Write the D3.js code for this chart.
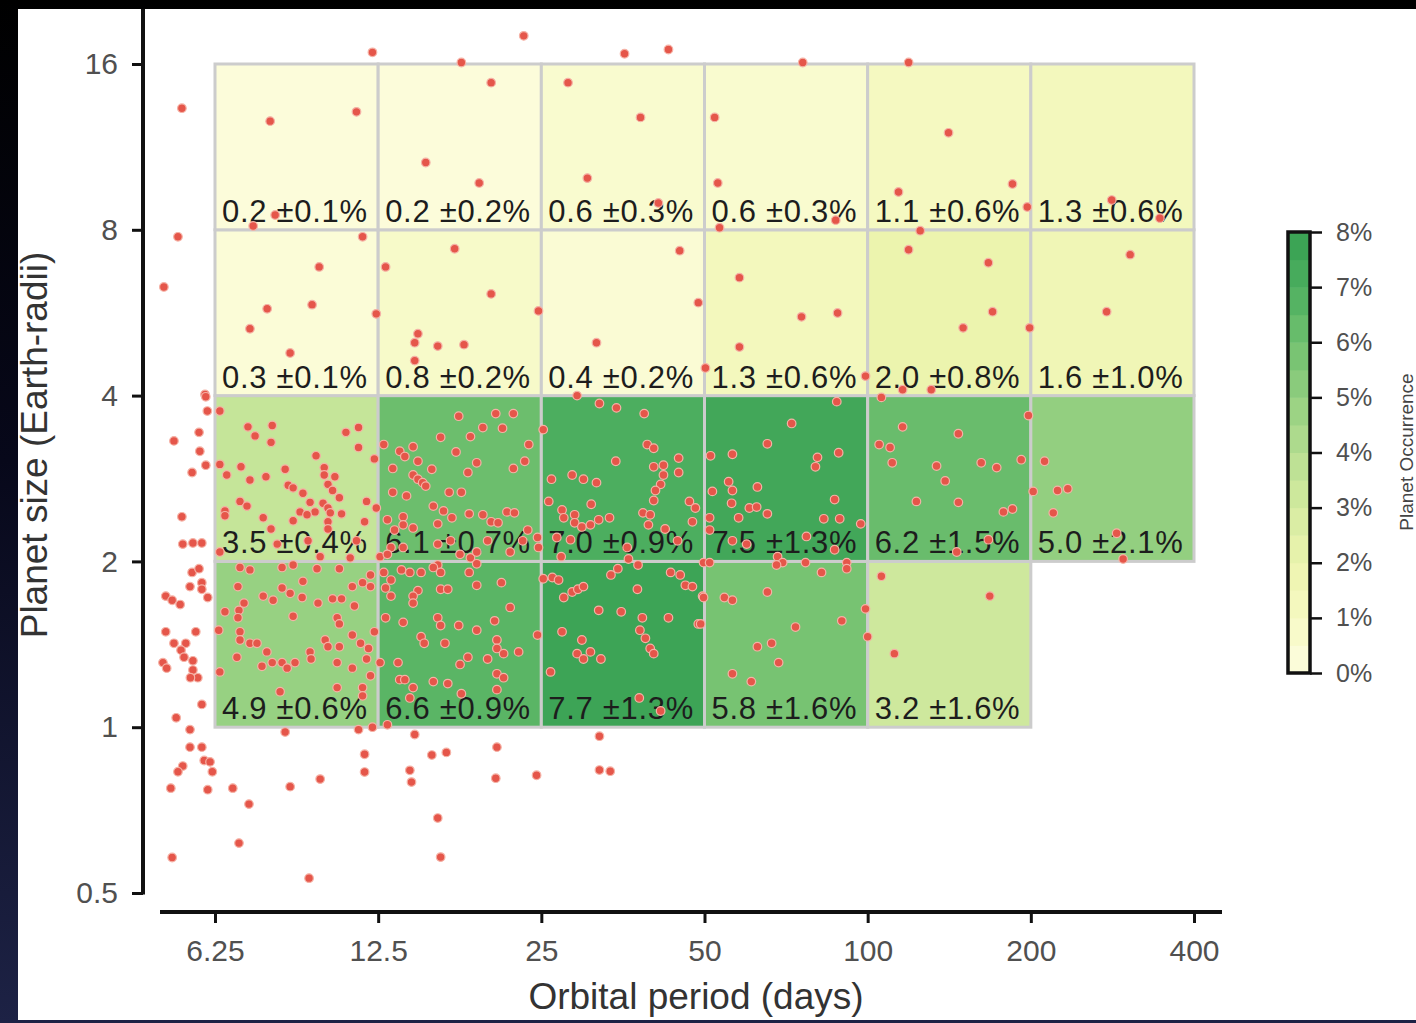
<!DOCTYPE html>
<html>
<head>
<meta charset="utf-8">
<script src="https://cdn.jsdelivr.net/npm/d3@7"></script>
<style>
  html, body { margin: 0; padding: 0; background: #000; overflow: hidden; }
  svg { display: block; }
  text { font-family: "Liberation Sans", Arial, Helvetica, sans-serif; }
</style>
</head>
<body>
<svg id="chart" width="1416" height="1023"></svg>
<script>
// Bin edges (orbital period in days, planet radius in Earth radii)
const periodEdges = [6.25, 12.5, 25, 50, 100, 200, 400];
const radiusEdges = [1, 2, 4, 8, 16];

// Axis tick values
const periodTicks = [6.25, 12.5, 25, 50, 100, 200, 400];
const radiusTicks = [0.5, 1, 2, 4, 8, 16];
const occurrenceTicks = [0, 1, 2, 3, 4, 5, 6, 7, 8];

// Planet occurrence (%) and uncertainty per size band, one value per period bin
const occ1to2 = [4.9, 6.6, 7.7, 5.8, 3.2];
const err1to2 = [0.6, 0.9, 1.3, 1.6, 1.6];
const occ2to4 = [3.5, 6.1, 7.0, 7.5, 6.2, 5.0];
const err2to4 = [0.4, 0.7, 0.9, 1.3, 1.5, 2.1];
const occ4to8 = [0.3, 0.8, 0.4, 1.3, 2.0, 1.6];
const err4to8 = [0.1, 0.2, 0.2, 0.6, 0.8, 1.0];
const occ8to16 = [0.2, 0.2, 0.6, 0.6, 1.1, 1.3];
const err8to16 = [0.1, 0.2, 0.3, 0.3, 0.6, 0.6];

// Detected planet candidates: [orbital period (days), radius (Earth radii)]
const planets = [
  [5.43,13.3],[7.90,12.6],[11.4,13.1],[12.2,16.8],[17.8,16.1],[20.2,14.8],[23.2,18.0],[28.0,14.8],[35.6,16.7],[42.9,17.0],
  [38.1,12.8],[52.2,12.8],[75.9,16.1],[119,16.1],[141,12.0],[15.3,10.6],[19.2,9.73],[30.4,9.93],[52.9,9.73],[114,9.37],
  [185,9.69],[197,8.80],[282,9.06],[346,8.40],[41.1,8.95],[87.3,8.33],[8.07,8.51],[7.35,8.13],[11.7,7.77],[5.34,7.77],
  [5.03,6.30],[9.73,6.85],[7.80,5.75],[9.44,5.85],[7.25,5.29],[8.60,4.78],[12.4,5.63],[12.9,6.85],[17.3,7.39],[20.2,6.12],
  [14.8,5.18],[14.6,4.99],[16.1,4.92],[18.0,4.95],[14.6,4.63],[24.7,5.70],[31.6,4.99],[45.0,7.33],[48.7,5.90],[58.0,6.55],
  [58.0,4.90],[75.5,5.56],[88.0,5.65],[53.3,8.07],[125,7.97],[119,7.36],[167,6.97],[170,5.68],[150,5.31],[199,5.31],
  [276,5.68],[305,7.21],[50.2,4.49],[99.1,4.34],[5.99,4.02],[116,4.10],[131,4.10],[29.1,4.00],[106,3.97],
  [6.01,3.98],[6.05,3.75],[6.38,3.75],[5.25,3.31],[5.84,3.43],[5.86,3.17],[6.01,2.99],[5.67,2.90],[6.38,3.00],[6.57,2.87],
  [7.19,3.51],[7.41,3.38],[7.97,3.53],[7.93,3.29],[6.98,2.97],[7.25,2.81],[7.76,2.85],[8.42,2.94],[9.60,3.11],[9.94,2.96],
  [9.94,2.87],[10.4,2.85],[10.9,3.43],[11.5,3.50],[11.5,3.22],[12.3,3.07],[8.53,2.75],[8.71,2.72],[9.08,2.66],[10.1,2.76],
  [10.3,2.69],[10.6,2.61],[6.95,2.57],[7.16,2.52],[6.52,2.47],[6.52,2.42],[5.43,2.41],[7.67,2.40],[8.71,2.37],[8.97,2.46],
  [9.36,2.56],[9.56,2.46],[9.89,2.55],[10.1,2.50],[10.2,2.45],[10.7,2.44],[10.1,2.36],[9.24,2.43],[11.9,2.57],[12.4,2.50],
  [11.8,2.36],[7.93,2.29],[10.1,2.29],[5.45,2.15],[5.69,2.16],[5.91,2.16],[6.38,2.08],[8.14,2.15],[11.4,2.18],[11.1,2.03],
  [12.6,2.04],[9.77,2.04],[9.28,2.18],
  [6.95,1.95],[7.25,1.93],[8.31,1.95],[8.71,1.97],[9.64,1.94],[10.6,1.94],[9.08,1.84],[5.67,1.91],[5.84,1.94],[5.62,1.80],
  [5.91,1.83],[5.91,1.78],[6.06,1.72],[5.07,1.73],[5.21,1.70],[5.39,1.67],[6.89,1.80],[7.07,1.68],[6.92,1.63],[6.89,1.58],
  [6.52,1.62],[7.67,1.73],[8.00,1.70],[8.31,1.79],[8.60,1.75],[9.05,1.72],[9.68,1.68],[10.3,1.71],[10.7,1.71],[11.3,1.66],
  [11.2,1.80],[11.7,1.83],[12.1,1.89],[12.1,1.80],[8.71,1.59],[10.5,1.58],[10.6,1.54],[5.07,1.49],[5.76,1.49],[6.35,1.50],
  [6.95,1.49],[5.25,1.42],[5.52,1.42],[5.41,1.38],[5.48,1.34],[5.01,1.31],[5.09,1.28],[5.69,1.32],[5.69,1.27],[5.81,1.23],
  [5.63,1.23],[6.95,1.44],[7.25,1.42],[7.47,1.42],[7.79,1.37],[6.86,1.34],[7.63,1.29],[7.97,1.31],[8.31,1.31],[8.49,1.28],
  [8.78,1.31],[9.36,1.37],[9.40,1.33],[9.98,1.44],[10.1,1.40],[10.6,1.40],[11.2,1.47],[11.6,1.42],[12.0,1.39],[12.3,1.49],
  [10.5,1.31],[11.2,1.28],[11.9,1.33],[12.6,1.31],[12.1,1.24],[6.38,1.26],[10.5,1.18],[11.7,1.18],[11.7,1.14],[5.91,1.10],
  [5.30,1.04],[5.62,0.99],[8.24,1.16],[12.2,1.00],[13.0,1.01],[11.5,0.99],[8.42,0.98],
  [5.62,0.92],[5.91,0.92],[5.97,0.87],[6.12,0.865],[6.18,0.83],[5.45,0.85],[5.34,0.83],[5.18,0.775],[6.06,0.77],[6.74,0.775],
  [7.22,0.725],[8.60,0.78],[9.77,0.805],[6.92,0.616],[5.21,0.58],[9.32,0.532],[14.6,0.97],[11.8,0.893],[11.8,0.829],[15.7,0.89],
  [16.7,0.90],[14.3,0.835],[14.4,0.795],[20.7,0.92],[20.6,0.808],[24.5,0.818],[32.0,0.963],[32.0,0.836],[33.5,0.832],[16.1,0.684],
  [16.3,0.581],
  [17.6,3.67],[20.6,3.71],[22.2,3.71],[19.5,3.50],[21.2,3.49],[18.5,3.37],[16.3,3.36],[23.7,3.26],[12.8,3.26],[14.5,3.23],
  [13.7,3.17],[14.0,3.10],[17.4,3.16],[14.8,3.04],[19.0,3.02],[23.3,3.04],[22.2,2.95],[13.3,2.95],[15.7,2.94],[18.3,2.90],
  [14.5,2.87],[14.8,2.82],[15.1,2.78],[15.3,2.74],[13.3,2.67],[14.1,2.63],[16.9,2.67],[17.8,2.67],[15.8,2.52],[16.5,2.47],
  [17.1,2.40],[18.4,2.44],[19.5,2.43],[20.2,2.36],[21.6,2.46],[22.3,2.45],[13.0,2.38],[13.9,2.41],[13.9,2.33],[14.5,2.30],
  [13.4,2.28],[16.1,2.34],[20.8,2.35],[23.6,2.28],[24.6,2.21],[24.7,2.12],[13.2,2.12],[13.0,2.06],[13.9,2.12],[16.1,2.15],
  [17.7,2.06],[18.5,2.03],[19.0,2.08],[19.9,2.18],[21.9,2.08],[23.1,2.18],[17.0,2.18],[25.2,3.47],[16.1,1.97],
  [32.0,3.87],[34.4,3.80],[38.7,3.71],[39.2,3.26],[40.3,3.21],[34.3,3.04],[44.8,3.08],[40.3,2.97],[42.0,2.99],[42.0,2.87],
  [44.8,2.90],[41.5,2.76],[40.6,2.69],[26.1,2.82],[28.5,2.87],[29.9,2.82],[31.6,2.78],[40.3,2.58],[30.9,2.54],[46.9,2.57],
  [48.1,2.50],[25.8,2.57],[27.3,2.48],[27.5,2.40],[28.8,2.43],[28.8,2.35],[29.7,2.31],[30.8,2.33],[31.9,2.38],[33.4,2.40],
  [38.5,2.45],[39.7,2.43],[39.4,2.33],[47.5,2.36],[42.3,2.29],[44.6,2.18],[26.7,2.21],[28.3,2.19],[36.0,2.12],[27.2,2.04],
  [36.2,2.02],[37.7,1.97],
  [12.8,1.91],[13.8,1.93],[14.3,1.91],[15.0,1.91],[15.8,1.95],[16.3,1.91],[18.4,1.91],[19.0,1.98],[13.2,1.85],[12.9,1.79],
  [13.2,1.73],[14.8,1.77],[14.5,1.73],[14.5,1.68],[16.3,1.78],[16.8,1.78],[19.0,1.81],[21.1,1.83],[21.9,1.65],[12.9,1.58],
  [13.9,1.55],[16.1,1.58],[16.3,1.53],[17.6,1.53],[19.0,1.50],[20.5,1.56],[15.0,1.46],[15.2,1.42],[16.6,1.42],[20.7,1.44],
  [20.7,1.39],[21.3,1.36],[22.7,1.37],[19.9,1.33],[18.3,1.34],[17.7,1.30],[13.6,1.31],[13.7,1.22],[14.0,1.22],[14.5,1.18],
  [15.8,1.21],[16.8,1.20],[20.7,1.25],[21.3,1.23],[20.7,1.17],[17.8,1.15],[14.3,1.13],[24.6,1.47],
  [25.2,1.86],[26.2,1.87],[26.9,1.85],[27.5,1.72],[28.5,1.76],[29.2,1.78],[29.9,1.80],[33.6,1.89],[34.6,1.94],[37.6,1.78],
  [43.3,1.91],[45.1,1.89],[46.1,1.81],[47.5,1.80],[49.6,1.73],[31.9,1.63],[35.1,1.62],[38.4,1.58],[42.9,1.58],[48.7,1.54],
  [27.3,1.49],[29.7,1.44],[38.0,1.50],[38.9,1.45],[39.7,1.39],[40.3,1.36],[29.1,1.36],[29.9,1.33],[30.8,1.37],[32.2,1.33],
  [26.0,1.26],[37.9,1.13],[41.5,1.07],
  [87.7,3.90],[72.4,3.56],[65.3,3.27],[51.3,3.11],[56.3,3.13],[80.8,3.09],[80.1,2.97],[88.4,3.15],[55.4,2.79],[56.3,2.69],
  [51.7,2.68],[62.6,2.73],[56.1,2.55],[60.5,2.50],[62.4,2.51],[86.9,2.59],[57.8,2.40],[65.3,2.44],[83.0,2.39],[88.8,2.39],
  [97.1,2.34],[51.1,2.40],[51.1,2.28],[56.3,2.18],[59.8,2.15],[77.1,2.22],[86.9,2.10],[68.2,2.04],[69.7,1.99],[67.9,1.97],
  [49.8,1.99],[51.1,1.99],[76.8,1.99],[91.5,1.99],[91.5,1.94],[82.2,1.91],
  [116,3.51],[147,3.41],[105,3.26],[110,3.22],[111,3.02],[134,2.98],[162,3.02],[173,2.96],[192,3.06],[139,2.80],
  [123,2.57],[147,2.56],[178,2.46],[185,2.49],[167,2.19],[146,2.08],[198,3.68],
  [212,3.04],[202,2.68],[224,2.69],[234,2.71],[220,2.45],[288,2.25],[296,2.02],
  [54.4,1.72],[56.3,1.70],[65.3,1.76],[49.8,1.72],[49.2,1.54],[73.6,1.52],[89.6,1.56],[99.1,1.64],[100,1.46],[66.5,1.42],
  [62.6,1.40],[68.5,1.31],[56.3,1.25],[61.0,1.21],
  [106,1.88],[168,1.73],[112,1.36]
];

// Colour ramp for occurrence (%): pale cream through yellow-green to green
const rampStops = [0, 1, 2, 3, 4, 5, 6, 7, 8];
const rampColors = ["#fdfde0", "#f6f9c3", "#ecf4ae", "#d4eba0", "#b6de91", "#93cf80", "#70c06f", "#4cae5f", "#37a052"];

const svg = d3.select("#chart");
const W = 1416, H = 1023;

// Frame and white page
const defs = svg.append("defs");
const frameGrad = defs.append("linearGradient").attr("id", "frame")
  .attr("x1", 0).attr("y1", 0).attr("x2", 0).attr("y2", 1);
frameGrad.append("stop").attr("offset", "0%").attr("stop-color", "#000000");
frameGrad.append("stop").attr("offset", "45%").attr("stop-color", "#07081a");
frameGrad.append("stop").attr("offset", "100%").attr("stop-color", "#1d2245");
svg.append("rect").attr("width", W).attr("height", H).attr("fill", "url(#frame)");
svg.append("rect").attr("x", 18).attr("y", 9).attr("width", W - 18).attr("height", 1011).attr("fill", "#ffffff");

// Scales
const x = d3.scaleLog().base(2).domain([6.25, 400]).range([215, 1194]);
const y = d3.scaleLog().base(2).domain([0.5, 16]).range([893, 64]);
const color = d3.scaleLinear().domain(rampStops).range(rampColors).interpolate(d3.interpolateRgb).clamp(true);

// Occurrence grid cells
const rows = [
  { r0: radiusEdges[0], r1: radiusEdges[1], occ: occ1to2, err: err1to2 },
  { r0: radiusEdges[1], r1: radiusEdges[2], occ: occ2to4, err: err2to4 },
  { r0: radiusEdges[2], r1: radiusEdges[3], occ: occ4to8, err: err4to8 },
  { r0: radiusEdges[3], r1: radiusEdges[4], occ: occ8to16, err: err8to16 }
];
const cells = [];
rows.forEach(row => {
  row.occ.forEach((v, i) => {
    cells.push({ p0: periodEdges[i], p1: periodEdges[i + 1], r0: row.r0, r1: row.r1, v, e: row.err[i] });
  });
});

const gCells = svg.append("g");
gCells.selectAll("rect").data(cells).join("rect")
  .attr("x", d => x(d.p0))
  .attr("y", d => y(d.r1))
  .attr("width", d => x(d.p1) - x(d.p0))
  .attr("height", d => y(d.r0) - y(d.r1))
  .attr("fill", d => color(d.v))
  .attr("stroke", "#cccccc")
  .attr("stroke-width", 3);

gCells.selectAll("text").data(cells).join("text")
  .attr("x", d => x(d.p0) + 7)
  .attr("y", d => y(d.r0) - 8)
  .attr("font-size", 31)
  .attr("letter-spacing", 0.7)
  .attr("fill", "#1d1d1d")
  .text(d => `${d.v.toFixed(1)} \u00b1${d.e.toFixed(1)}%`);

// Planet candidates
svg.append("g").selectAll("circle").data(planets).join("circle")
  .attr("cx", d => x(d[0]))
  .attr("cy", d => y(d[1]))
  .attr("r", 4.3)
  .attr("fill", "#e5564a")
  .attr("stroke", "#f5b2a6")
  .attr("stroke-width", 1.2);

// Y axis (planet size)
const yAxis = svg.append("g").attr("transform", "translate(143,0)")
  .call(d3.axisLeft(y).tickValues(radiusTicks).tickFormat(d => d).tickSize(11).tickPadding(14).tickSizeOuter(0));
yAxis.select(".domain").remove();
yAxis.append("line").attr("x1", 0).attr("x2", 0).attr("y1", 9).attr("y2", y(0.5) + 1.5)
  .attr("stroke", "#111").attr("stroke-width", 4);
yAxis.selectAll(".tick line").attr("stroke", "#111").attr("stroke-width", 3);
yAxis.selectAll(".tick text").attr("font-size", 30).attr("fill", "#505050")
  .attr("font-family", "'Liberation Sans', Arial, sans-serif");

// X axis (orbital period)
const xAxis = svg.append("g").attr("transform", "translate(0,912)")
  .call(d3.axisBottom(x).tickValues(periodTicks).tickFormat(d => d).tickSize(11).tickPadding(17).tickSizeOuter(0));
xAxis.select(".domain").remove();
xAxis.append("line").attr("x1", 160).attr("x2", 1222).attr("y1", 0).attr("y2", 0)
  .attr("stroke", "#111").attr("stroke-width", 4);
xAxis.selectAll(".tick line").attr("stroke", "#111").attr("stroke-width", 3);
xAxis.selectAll(".tick text").attr("font-size", 30).attr("fill", "#505050")
  .attr("font-family", "'Liberation Sans', Arial, sans-serif");

// Axis titles
svg.append("text")
  .attr("transform", "translate(47,445) rotate(-90)")
  .attr("text-anchor", "middle")
  .attr("font-size", 37)
  .attr("fill", "#333")
  .text("Planet size (Earth-radii)");
svg.append("text")
  .attr("x", 696).attr("y", 1009)
  .attr("text-anchor", "middle")
  .attr("font-size", 37)
  .attr("fill", "#333")
  .text("Orbital period (days)");

// Colour bar
const cb = d3.scaleLinear().domain([0, 8]).range([673, 232]);
const bands = d3.range(0, 8, 0.5);
const gBar = svg.append("g");
gBar.selectAll("rect").data(bands).join("rect")
  .attr("x", 1288).attr("width", 22)
  .attr("y", d => cb(d + 0.5))
  .attr("height", d => cb(d) - cb(d + 0.5) + 0.5)
  .attr("fill", d => color(d + 0.25));
gBar.append("rect").attr("x", 1288).attr("y", cb(8)).attr("width", 22).attr("height", cb(0) - cb(8))
  .attr("fill", "none").attr("stroke", "#111").attr("stroke-width", 3.5);
const cAxis = svg.append("g").attr("transform", "translate(1310,0)")
  .call(d3.axisRight(cb).tickValues(occurrenceTicks).tickFormat(d => d + "%").tickSize(12).tickPadding(14).tickSizeOuter(0));
cAxis.select(".domain").remove();
cAxis.selectAll(".tick line").attr("stroke", "#111").attr("stroke-width", 2.5);
cAxis.selectAll(".tick text").attr("font-size", 25).attr("fill", "#505050")
  .attr("font-family", "'Liberation Sans', Arial, sans-serif");
svg.append("text")
  .attr("transform", "translate(1413,452) rotate(-90)")
  .attr("text-anchor", "middle")
  .attr("font-size", 19)
  .attr("fill", "#444")
  .text("Planet Occurrence");
</script>
</body>
</html>
